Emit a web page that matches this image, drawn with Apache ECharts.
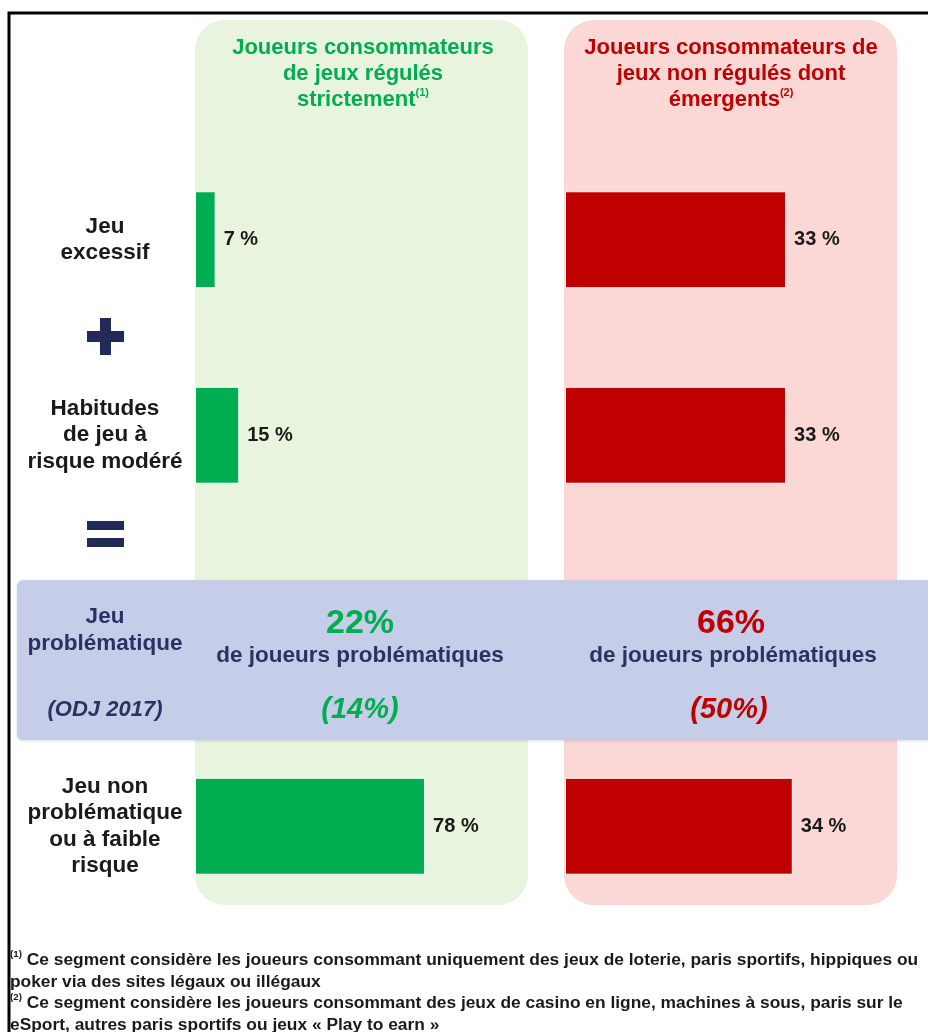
<!DOCTYPE html>
<html>
<head>
<meta charset="utf-8">
<style>
html, body { margin: 0; padding: 0; background: #fff; }
#main { width: 928px; height: 1032px; }
</style>
<script src="https://cdn.jsdelivr.net/npm/echarts@6/dist/echarts.min.js"></script>
</head>
<body>
<div id="main"></div>
<script>
var categories = ['Jeu\nexcessif', 'Habitudes\nde jeu à\nrisque modéré', 'Jeu\nproblématique', 'Jeu non\nproblématique\nou à faible\nrisque'];
var regulated = [7, 15, null, 78];
var unregulated = [33, 33, null, 34];
var problematic = ['22%', '66%'];
var odj2017 = ['(14%)', '(50%)'];

var FONT = '"Liberation Sans", Arial, sans-serif',
    GREEN = '#00AD50',
    RED = '#C00000',
    NAVY = '#2B3263',
    INK = '#1a1a1a';

var myChart = echarts.init(document.getElementById('main'));

function barSeries(data, color, idx) {
    return {
        type: 'bar',
        xAxisIndex: idx,
        yAxisIndex: idx,
        data: data,
        barWidth: 97,
        z: 3,
        itemStyle: { color: color, borderColor: '#fff', borderWidth: 1 },
        label: {
            show: true,
            position: 'right',
            distance: 8,
            formatter: '{c} %',
            fontFamily: FONT,
            fontWeight: 'bold',
            fontSize: 20,
            color: INK
        }
    };
}

function txt(x, y, text, color, size, extra) {
    var style = {
        x: x, y: y, text: text, fill: color,
        font: (extra && extra.italic ? 'italic ' : '') + 'bold ' + size + 'px ' + FONT,
        align: 'center', verticalAlign: 'middle'
    };
    if (extra && extra.lineHeight) style.lineHeight = extra.lineHeight;
    if (extra && extra.rich) style.rich = extra.rich;
    return { type: 'text', z: 5, style: style };
}

var supRich = { s: { fontSize: 11, fontWeight: 'bold', fontFamily: FONT, verticalAlign: 'top', padding: [0, 0, 10, 0] } };

var option = {
    animation: false,
    grid: [
        { left: 195, top: 142, width: 295, height: 782 },
        { left: 565, top: 142, width: 335, height: 782 }
    ],
    xAxis: [
        { gridIndex: 0, type: 'value', min: 0, max: 100, show: false },
        { gridIndex: 1, type: 'value', min: 0, max: 50, show: false }
    ],
    yAxis: [
        {
            gridIndex: 0, type: 'category', data: categories, inverse: true, z: 10,
            axisLine: { show: false }, axisTick: { show: false },
            axisLabel: {
                align: 'center', margin: 90, lineHeight: 26.5,
                fontFamily: FONT, fontWeight: 'bold', fontSize: 22.5, color: INK,
                formatter: function (v, i) {
                    return i === 2 ? '{n|' + v.split('\n').join('}\n{n|') + '}' : v;
                },
                rich: { n: { color: NAVY, fontFamily: FONT, fontWeight: 'bold', fontSize: 22.5, lineHeight: 27 } }
            }
        },
        { gridIndex: 1, type: 'category', data: categories, inverse: true, show: false }
    ],
    graphic: [
        /*外框*/
        { type: 'rect', z: 0, shape: { x: 9, y: 13, width: 940, height: 1040 }, style: { fill: 'none', stroke: '#000', lineWidth: 3 } },
        /*两个背景面板*/
        { type: 'rect', z: 0, shape: { x: 195, y: 20, width: 333, height: 885, r: 30 }, style: { fill: '#E9F4DE' } },
        { type: 'rect', z: 0, shape: { x: 564, y: 20, width: 333, height: 885, r: 30 }, style: { fill: '#FBD8D6' } },
        /*问题赌博横带*/
        { type: 'rect', z: 1, shape: { x: 17, y: 580, width: 940, height: 160, r: 6 },
          style: { fill: '#C6CDE8', shadowBlur: 3, shadowColor: 'rgba(0,0,0,0.15)', shadowOffsetY: 1 } },
        /*加号、等号*/
        { type: 'rect', z: 5, shape: { x: 100, y: 318, width: 11, height: 37 }, style: { fill: '#222A5A' } },
        { type: 'rect', z: 5, shape: { x: 87, y: 331, width: 37, height: 11 }, style: { fill: '#222A5A' } },
        { type: 'rect', z: 5, shape: { x: 87, y: 521, width: 37, height: 9 }, style: { fill: '#222A5A' } },
        { type: 'rect', z: 5, shape: { x: 87, y: 538, width: 37, height: 9 }, style: { fill: '#222A5A' } },
        /*标题*/
        txt(363, 74, 'Joueurs consommateurs\nde jeux régulés\nstrictement{s|(1)}', GREEN, 22, { lineHeight: 26, rich: supRich }),
        txt(731, 74, 'Joueurs consommateurs de\njeux non régulés dont\némergents{s|(2)}', RED, 22, { lineHeight: 26, rich: supRich }),
        /*横带文字*/
        txt(360, 624, problematic[0], GREEN, 34),
        txt(360, 656, 'de joueurs problématiques', NAVY, 22.5),
        txt(360, 710, odj2017[0], GREEN, 29, { italic: true }),
        txt(731, 624, problematic[1], RED, 34),
        txt(733, 656, 'de joueurs problématiques', NAVY, 22.5),
        txt(729, 710, odj2017[1], RED, 29, { italic: true }),
        txt(105, 710, '(ODJ 2017)', NAVY, 22, { italic: true }),
        /*脚注*/
        {
            type: 'text', z: 5, x: 10, y: 950, scaleX: 1.085,
            style: {
                x: 0, y: 0, fill: INK, font: 'bold 16px ' + FONT, lineHeight: 21.5,
                text: '{s|(1)} Ce segment considère les joueurs consommant uniquement des jeux de loterie, paris sportifs, hippiques ou\n'
                    + 'poker via des sites légaux ou illégaux\n'
                    + '{s|(2)} Ce segment considère les joueurs consommant des jeux de casino en ligne, machines à sous, paris sur le\n'
                    + 'eSport, autres paris sportifs ou jeux « Play to earn »',
                rich: { s: { fontSize: 9, fontWeight: 'bold', fontFamily: FONT, verticalAlign: 'top', padding: [0, 0, 8, 0] } }
            }
        }
    ],
    series: [
        barSeries(regulated, GREEN, 0),
        barSeries(unregulated, RED, 1)
    ]
};

myChart.setOption(option);
window.onresize = myChart.resize;
</script>
</body>
</html>
